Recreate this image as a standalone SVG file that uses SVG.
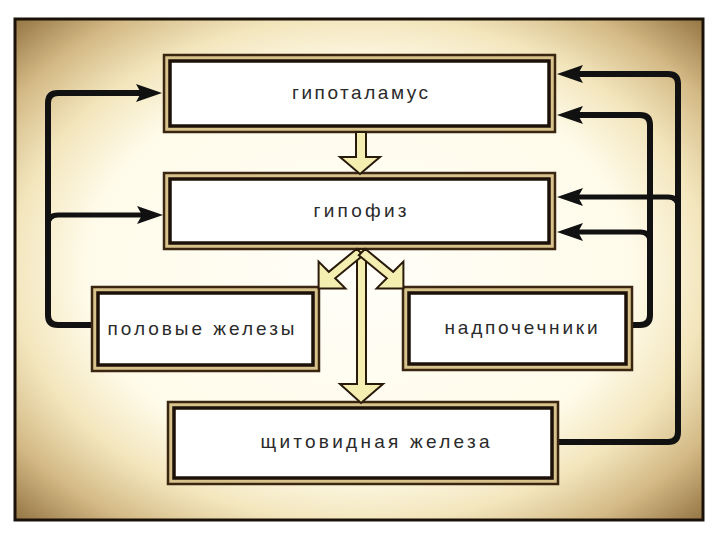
<svg xmlns="http://www.w3.org/2000/svg" width="720" height="540" viewBox="0 0 720 540">
<defs>
<radialGradient id="paper" cx="50%" cy="50%" r="72%">
<stop offset="0" stop-color="#fffef8"/>
<stop offset="0.55" stop-color="#fffbea"/>
<stop offset="0.7" stop-color="#f3e6bd"/>
<stop offset="0.84" stop-color="#d3b985"/>
<stop offset="1" stop-color="#8c6c3c"/>
</radialGradient>
<marker id="ah" viewBox="0 0 26 18" markerUnits="userSpaceOnUse" markerWidth="26" markerHeight="18" refX="11" refY="9" orient="auto">
<path d="M0,0 L26,9 L0,18 L5,9 Z" fill="#111"/>
</marker>
<style>
.outer{fill:#d8c38c;stroke:#3a2510;stroke-width:2.5}
.inner{fill:#ffffff;stroke:#1c1108;stroke-width:3.5}
.lbl{font-family:"Liberation Sans",Arial,sans-serif;font-size:19px;fill:#2a2a2a;text-anchor:middle}
.fb{fill:none;stroke:#111;stroke-width:6;stroke-linejoin:round}
.fb2{fill:none;stroke:#111;stroke-width:5;stroke-linejoin:round}
.blk{fill:#f4eeb0;stroke:#2a1a0a;stroke-width:2;stroke-linejoin:miter}
</style>
</defs>
<rect x="0" y="0" width="720" height="540" fill="#ffffff"/>
<rect x="15" y="19" width="688" height="501" fill="url(#paper)" stroke="#1a1208" stroke-width="3"/>

<g id="connectors">
<path class="fb" d="M92,325 H58 Q48,325 48,315 V103 Q48,93 58,93 H147" marker-end="url(#ah)"/>
<path class="fb2" d="M48,225 Q48,215 58,215 H148" marker-end="url(#ah)"/>
<path class="fb" d="M558,442 H668 Q678,442 678,432 V84 Q678,74 668,74 H572" marker-end="url(#ah)"/>
<path class="fb2" d="M678,207 Q678,197 668,197 H572" marker-end="url(#ah)"/>
<path class="fb" d="M632,325 H640 Q650,325 650,315 V125 Q650,115 640,115 H572" marker-end="url(#ah)"/>
<path class="fb2" d="M650,242 Q650,232 640,232 H572" marker-end="url(#ah)"/>
</g>

<g id="hypothalamus">
<rect class="outer" x="164" y="55" width="391" height="77"/>
<rect class="inner" x="170" y="61" width="379" height="65"/>
<text class="lbl" x="360" y="99" textLength="136" lengthAdjust="spacing">гипоталамус</text>
</g>
<g id="hypophysis">
<rect class="outer" x="164" y="173" width="391" height="76"/>
<rect class="inner" x="170" y="179" width="379" height="64"/>
<text class="lbl" x="360" y="217" textLength="93" lengthAdjust="spacing">гипофиз</text>
</g>
<g id="gonads">
<rect class="outer" x="92" y="287" width="227" height="84"/>
<rect class="inner" x="98" y="293" width="215" height="72"/>
<text class="lbl" x="201" y="335" textLength="187" lengthAdjust="spacing">половые железы</text>
</g>
<g id="adrenals">
<rect class="outer" x="403" y="287" width="229" height="83"/>
<rect class="inner" x="409" y="293" width="217" height="71"/>
<text class="lbl" x="521" y="334" textLength="153" lengthAdjust="spacing">надпочечники</text>
</g>
<g id="thyroid">
<rect class="outer" x="168" y="402" width="390" height="82"/>
<rect class="inner" x="174" y="408" width="378" height="70"/>
<text class="lbl" x="375" y="448" textLength="229" lengthAdjust="spacing">щитовидная железа</text>
</g>

<g id="block-arrows">
<polygon class="blk" points="356,132 366,132 366,157 380,157 360,174 340,157 356,157"/>
<polygon class="blk" points="357,249 366,249 366,384 383,384 361,403 340,384 357,384"/>
<polygon class="blk" points="356.8,248.8 328.8,271.8 318.6,261.6 318.6,288.4 345.4,288.4 335.2,278.2 363.2,255.2"/>
<polygon class="blk" points="365.2,248.8 393.2,271.8 403.4,261.6 403.4,288.4 376.6,288.4 386.8,278.2 358.8,255.2"/>
</g>
</svg>
